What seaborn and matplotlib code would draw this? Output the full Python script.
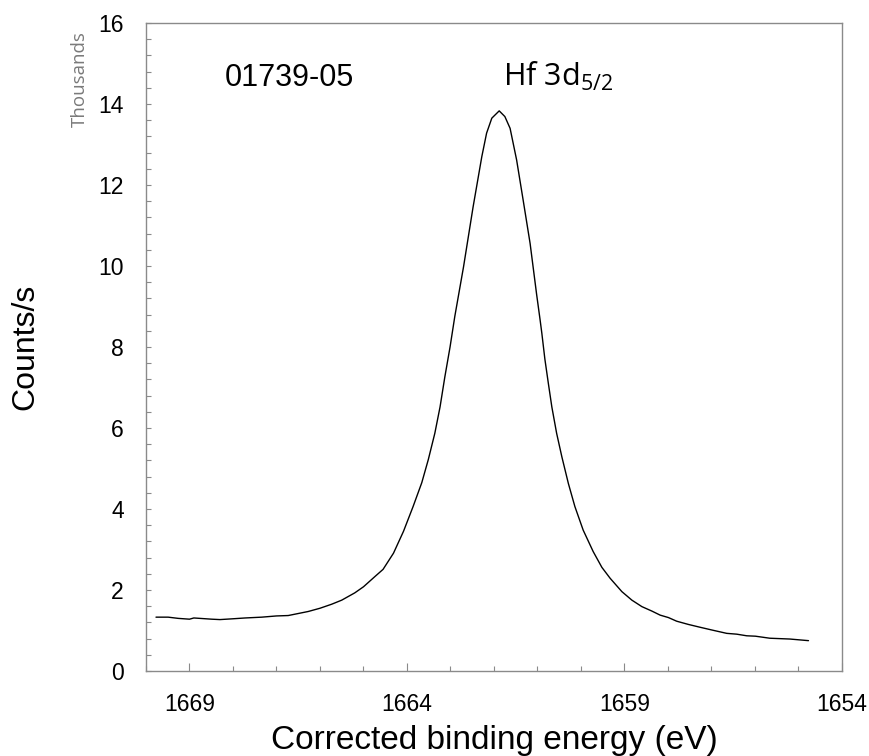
import matplotlib
matplotlib.use("Agg")
import matplotlib.pyplot as plt
from matplotlib.ticker import MultipleLocator
import seaborn as sns

# binding energy (eV) and intensity (thousands of counts/s)
energy = [1669.77, 1669.49, 1669.26, 1669.00, 1668.90, 1668.49, 1668.30, 1668.00,
          1667.72, 1667.34, 1667.00, 1666.73, 1666.50, 1666.27, 1666.00, 1665.73,
          1665.50, 1665.20, 1665.00, 1664.74, 1664.55, 1664.31, 1664.08, 1663.86,
          1663.66, 1663.51, 1663.36, 1663.24, 1663.13, 1663.01, 1662.90, 1662.70,
          1662.48, 1662.28, 1662.17, 1662.05, 1661.88, 1661.75, 1661.63, 1661.48,
          1661.33, 1661.17, 1661.02, 1660.94, 1660.90, 1660.83, 1660.75, 1660.67,
          1660.56, 1660.44, 1660.29, 1660.14, 1659.95, 1659.72, 1659.52, 1659.33,
          1659.06, 1658.83, 1658.60, 1658.37, 1658.18, 1657.99, 1657.80, 1657.53,
          1657.26, 1656.98, 1656.65, 1656.42, 1656.19, 1655.99, 1655.66, 1655.20,
          1654.77]
counts_k = [1.33, 1.33, 1.30, 1.28, 1.31, 1.28, 1.27, 1.29,
            1.31, 1.33, 1.36, 1.37, 1.42, 1.47, 1.55, 1.65,
            1.75, 1.93, 2.08, 2.33, 2.51, 2.91, 3.45, 4.06,
            4.65, 5.22, 5.87, 6.52, 7.26, 8.00, 8.76, 9.98,
            11.46, 12.70, 13.28, 13.65, 13.83, 13.69, 13.40, 12.62,
            11.63, 10.56, 9.30, 8.67, 8.34, 7.70, 7.10, 6.52,
            5.87, 5.29, 4.63, 4.06, 3.48, 2.95, 2.56, 2.29,
            1.96, 1.75, 1.59, 1.48, 1.38, 1.32, 1.23, 1.15,
            1.08, 1.01, 0.93, 0.91, 0.87, 0.86, 0.81, 0.79,
            0.75]

x_major = [1669, 1664, 1659, 1654]
sample_id = "01739-05"
peak_label = r"Hf 3d$_{5/2}$"

sns.set_style("white")
plt.rcParams['font.family'] = ['Liberation Sans', 'DejaVu Sans']
plt.rcParams['mathtext.fontset'] = 'custom'
plt.rcParams['mathtext.rm'] = 'Open Sans'
plt.rcParams['mathtext.it'] = 'Open Sans'

fig = plt.figure(figsize=(8.7, 7.56), dpi=100)
ax = fig.add_axes([0.1678, 0.1124, 0.80, 0.8572])

sns.lineplot(x=energy, y=counts_k, sort=False, color='black', linewidth=1.0, ax=ax)

ax.set_xlim(1670, 1654)
ax.set_ylim(0, 16)
ax.set_xticks(x_major)
ax.xaxis.set_minor_locator(MultipleLocator(1))
ax.yaxis.set_major_locator(MultipleLocator(2))
ax.yaxis.set_minor_locator(MultipleLocator(0.4))

grey = '#8a8a8a'
for s in ax.spines.values():
    s.set_color(grey)
    s.set_linewidth(1.0)
ax.tick_params(which='both', direction='in', color=grey, labelcolor='black',
               labelsize=16.5, pad=16, top=False, right=False, left=True, bottom=True)
ax.tick_params(axis='x', which='major', length=5.5, width=0.8)
ax.tick_params(axis='x', which='minor', length=3.5, width=0.8)
ax.tick_params(axis='y', which='both', length=3.8, width=0.8)

ax.set_xlabel("Corrected binding energy (eV)", fontsize=24, labelpad=6, color='black')
ax.set_ylabel("Counts/s", fontsize=23, labelpad=42, color='black')

fig.text(0.092, 0.8955, "Thousands", rotation=90, ha='center', va='center',
         fontsize=13.5, color='#7a7a7a', family=['Open Sans', 'DejaVu Sans'])

ax.text(1668.18, 14.44, sample_id, fontsize=22, va='baseline', ha='left', color='black')
ax.text(1661.79, 14.44, peak_label, fontsize=22, va='baseline', ha='left',
        color='black', family=['Open Sans', 'DejaVu Sans'])

fig.savefig("out.png", dpi=100)
